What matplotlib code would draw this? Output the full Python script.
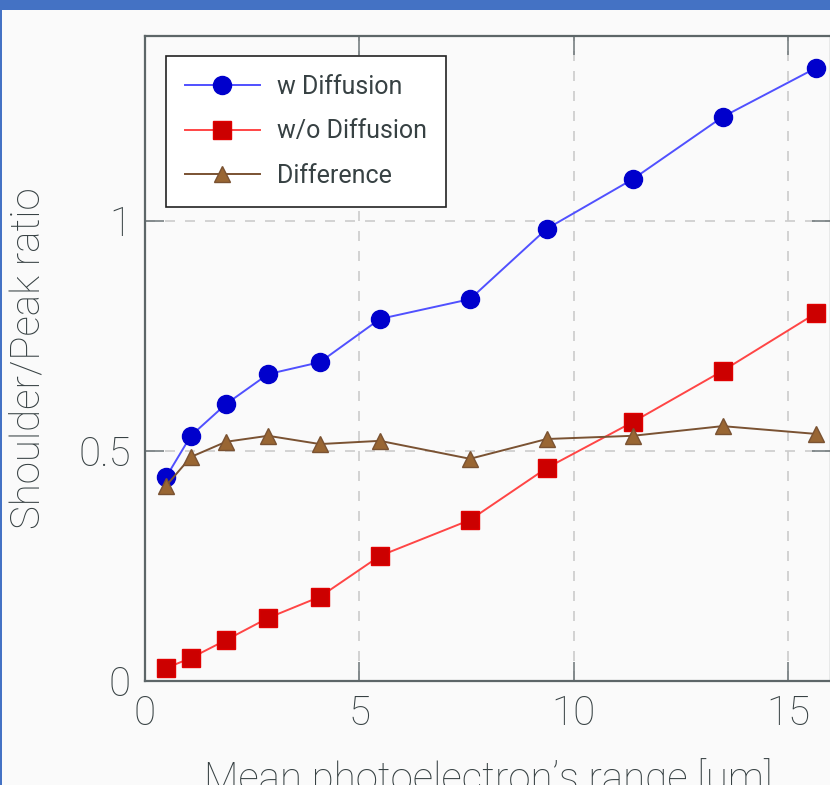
import matplotlib
matplotlib.use("Agg")
import matplotlib.pyplot as plt
from matplotlib.patches import Rectangle

# Data
x_range = [0.49, 1.07, 1.89, 2.87, 4.08, 5.48, 7.58, 9.37, 11.38, 13.47, 15.66]
w_diffusion = [0.443, 0.533, 0.602, 0.667, 0.693, 0.787, 0.830, 0.983, 1.091, 1.226, 1.333]
wo_diffusion = [0.028, 0.050, 0.089, 0.137, 0.183, 0.272, 0.350, 0.463, 0.563, 0.674, 0.800]
difference = [0.424, 0.487, 0.520, 0.533, 0.515, 0.522, 0.483, 0.526, 0.533, 0.554, 0.537]
labels = ["w Diffusion", "w/o Diffusion", "Difference"]
xticks = [0, 5, 10, 15]
yticks = [0, 0.5, 1]
ytick_labels = ["0", "0.5", "1"]

plt.rcParams['font.family'] = ['Roboto', 'DejaVu Sans']
txt_color = '#374143'
spine_color = '#5d6668'
fw = 'light'

fig = plt.figure(figsize=(8.3, 7.85), dpi=100, facecolor='#fafafa')
# frame decoration
fig.patches.append(Rectangle((0, 1 - 10/785), 1, 10/785, transform=fig.transFigure,
                             facecolor='#4472c4', edgecolor='none', zorder=10))
fig.patches.append(Rectangle((0, 0), 2/830, 1, transform=fig.transFigure,
                             facecolor='#4472c4', edgecolor='none', zorder=10))

ax = fig.add_axes([145/830, (785-681)/785, 686/830, 645/785])
ax.set_facecolor('#fafafa')

ax.plot(x_range, w_diffusion, color='#5050ff', lw=1.4, marker='o', markersize=13,
        markerfacecolor='#0000cc', markeredgecolor='#0000cc', label=labels[0], zorder=3)
ax.plot(x_range, wo_diffusion, color='#ff4545', lw=1.4, marker='s', markersize=12.5,
        markerfacecolor='#cc0000', markeredgecolor='#e00000', label=labels[1], zorder=3)
ax.plot(x_range, difference, color='#7a5232', lw=1.4, marker='^', markersize=11.5,
        markerfacecolor='#996633', markeredgecolor='#7a5232', label=labels[2], zorder=3)

ax.set_xlim(0, 16)
ax.set_ylim(0, 1.402)
ax.set_xticks(xticks)
ax.set_yticks(yticks)
ax.set_yticklabels(ytick_labels)
ax.grid(True, color='#cccccc', linestyle=(0, (6, 6)), lw=1.2)
ax.set_axisbelow(True)

for s in ax.spines.values():
    s.set_color(spine_color)
    s.set_linewidth(1.6)

ax.tick_params(direction='in', length=14, width=1.1, color='#6d7678',
               top=True, right=True, labelsize=29, labelcolor=txt_color, pad=10)
for lab in ax.get_xticklabels() + ax.get_yticklabels():
    lab.set_fontweight(fw)

ax.set_xlabel("Mean photoelectron\u2019s range [um]", fontsize=29, color=txt_color,
              fontweight=fw, labelpad=18)
ax.set_ylabel("Shoulder/Peak ratio", fontsize=29, color=txt_color,
              fontweight=fw, labelpad=22)

leg = ax.legend(loc='upper left', bbox_to_anchor=(21/686, 625/645), borderaxespad=0,
                prop={'size': 18, 'weight': 'normal'}, frameon=True, fancybox=False,
                edgecolor='#222222', facecolor='white', framealpha=1,
                handlelength=3.0, labelspacing=0.82, borderpad=0.75, handletextpad=0.7)
leg.get_frame().set_linewidth(1.2)
for t in leg.get_texts():
    t.set_color(txt_color)

fig.savefig("out.png", dpi=100, facecolor=fig.get_facecolor())
